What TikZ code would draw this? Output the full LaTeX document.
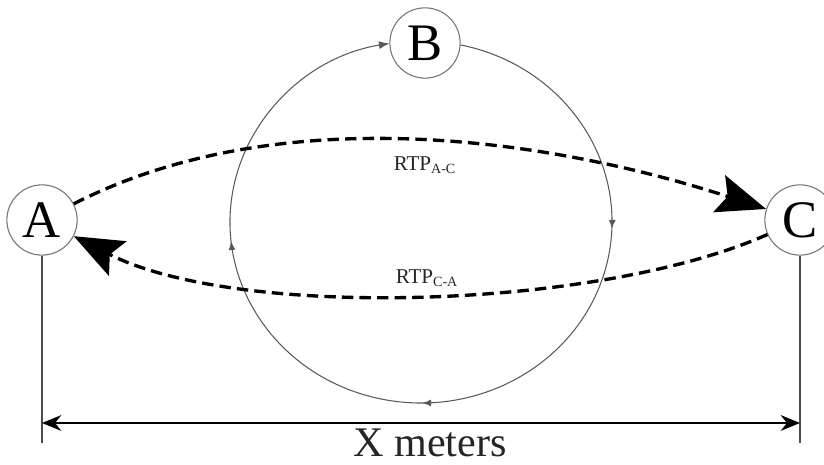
\documentclass[tikz,border=0pt]{standalone}
\usepackage{fontspec}
\setmainfont{Liberation Serif}
\usetikzlibrary{arrows.meta,positioning,calc,decorations.markings}

\begin{document}
\begin{tikzpicture}[x=0.02cm,y=0.02cm,>=Stealth,line join=round,
    station/.style={circle,draw=black!55,line width=0.6pt,fill=white,minimum size=40pt,inner sep=0pt,font=\fontsize{30}{30}\selectfont},
    rtp/.style={line width=1.9pt,dash pattern=on 6.5pt off 3.5pt,-{Stealth[length=28pt,width=22pt,inset=5pt]}},
    rtplabel/.style={font=\fontsize{12}{14}\selectfont,text=black!85},
    smalltip/.style={decoration={markings,
        mark=at position 0.236 with {\arrow{Latex[length=5pt,width=4pt]}},
        mark=at position 0.495 with {\arrow{Latex[length=5pt,width=4pt]}},
        mark=at position 0.745 with {\arrow{Latex[length=5pt,width=4pt]}}},
      postaction={decorate}},
    ringpath/.style={black!65,line width=0.6pt,smalltip,-{Latex[length=6pt,width=4.5pt]}}
  ]
      \useasboundingbox (0,0) rectangle (824,465);
      \coordinate (O) at (421,243);
      % the three stations
      \node[station] (A) at (42,245) {A};
      \node[station] (B) at (425,422) {B};
      \node[station] (C) at (800,245) {C};
      % trip round through B
      \draw[ringpath] ($(O)+(78:191 and 181)$) arc[start angle=78,end angle=-260.5,x radius=191,y radius=181];
      % round trip times
      \draw[rtp] (A) to[out=27,in=162,looseness=0.85] (C);
      \draw[rtp] (C) to[out=204,in=-27,looseness=0.68] (A);
      \node[rtplabel] (rtpAC) at (425,300) {RTP\textsubscript{A-C}};
      \node[rtplabel] (rtpCA) at (427,187) {RTP\textsubscript{C-A}};
      % distance
      \coordinate (lA) at (42,22);
      \coordinate (lC) at (800,22);
      \coordinate (dA) at (42,42);
      \coordinate (dC) at (800,42);
      \draw[black!70,line width=0.6pt] (A.south) -- (lA);
      \draw[black!70,line width=0.6pt] (C.south) -- (lC);
      \draw[line width=0.9pt,{Stealth[length=11pt,width=9pt]}-{Stealth[length=11pt,width=9pt]}] (dA) -- (dC);
      \node[font=\fontsize{24}{24}\selectfont,text=black!85] (dist) at (430,22) {X meters};
\end{tikzpicture}
\end{document}
